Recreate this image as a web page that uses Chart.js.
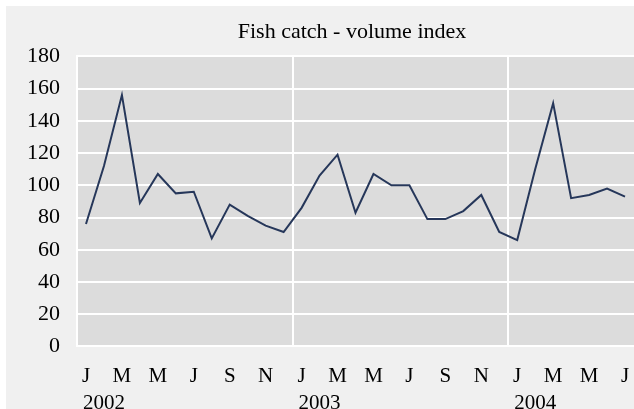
<!DOCTYPE html>
<html>
<head>
<meta charset="utf-8">
<script src="https://cdn.jsdelivr.net/npm/chart.js@4/dist/chart.umd.min.js"></script>
<style>
  html, body { margin: 0; padding: 0; background: #fff; overflow: hidden; width: 634px; height: 409px; }
  #marco { position: absolute; left: 6px; top: 6px; width: 688px; height: 430px; background: #f0f0f0; }
</style>
</head>
<body>
<div id="marco"><canvas id="graficoPesca"></canvas></div>
<script>
const letrasMes = ["J", "F", "M", "A", "M", "J", "J", "A", "S", "O", "N", "D"];
const anios = ["2002", "2003", "2004"];
const indice2002 = [76, 112, 156, 89, 107, 95, 96, 67, 88, 81, 75, 71];
const indice2003 = [86, 106, 119, 83, 107, 100, 100, 79, 79, 84, 94, 71];
const indice2004 = [66, 110, 151, 92, 94, 98, 93];
const ticksY = [0, 20, 40, 60, 80, 100, 120, 140, 160, 180];

const valores = [...indice2002, ...indice2003, ...indice2004];
const categorias = valores.map((v, i) => letrasMes[i % 12]);

Chart.defaults.font.family = "'Liberation Serif', 'Times New Roman', serif";
Chart.defaults.font.size = 21;
Chart.defaults.color = "#000";

// fondo gris del area del grafico
const fondoArea = {
  id: "fondoArea",
  beforeDraw(chart) {
    const { ctx, chartArea } = chart;
    ctx.save();
    ctx.fillStyle = "#dcdcdc";
    ctx.fillRect(chartArea.left, chartArea.top, chartArea.width, chartArea.height);
    ctx.restore();
  },
};

// meses alternos en la primera linea, el anio debajo (centrado en febrero)
function etiquetaX(v, i) {
  if (i % 2 === 0) return categorias[i];
  if (i % 12 === 1) return ["", anios[Math.floor(i / 12)]];
  return "";
}

new Chart(document.getElementById("graficoPesca"), {
  type: "line",
  data: {
    labels: categorias,
    datasets: [
      {
        label: "Fish catch - volume index",
        data: valores,
        borderColor: "#26375a",
        borderWidth: 2,
        pointRadius: 0,
        tension: 0,
        fill: false,
      },
    ],
  },
  options: {
    responsive: true,
    maintainAspectRatio: false,
    animation: false,
    layout: { padding: { left: 4, top: 0, right: 0, bottom: 3 } },
    plugins: {
      legend: { display: false },
      tooltip: { enabled: false },
      title: {
        display: true,
        text: "Fish catch - volume index",
        font: { size: 22, weight: "normal" },
        color: "#000",
        padding: { top: 13, bottom: 11 },
      },
    },
    scales: {
      x: {
        offset: true,
        grid: {
          offset: true,
          drawTicks: false,
          lineWidth: 2,
          color: (c) => (c.index % 12 === 0 ? "#fff" : "rgba(0,0,0,0)"),
        },
        border: { color: "#fff", width: 2 },
        ticks: {
          autoSkip: false,
          maxRotation: 0,
          padding: 16,
          font: { size: 21, lineHeight: 1.3 },
          callback: etiquetaX,
        },
      },
      y: {
        min: ticksY[0],
        max: ticksY[ticksY.length - 1],
        afterBuildTicks: (scale) => {
          scale.ticks = ticksY.map((v) => ({ value: v }));
        },
        grid: { color: "#fff", lineWidth: 2, drawTicks: false },
        border: { color: "#fff", width: 2 },
        ticks: { padding: 17, font: { size: 22 } },
      },
      y2: {
        position: "right",
        grid: { display: false, drawTicks: false },
        border: { display: false },
        ticks: { display: false },
        afterFit: (scale) => {
          scale.width = 60;
        },
      },
    },
  },
  plugins: [fondoArea],
});
</script>
</body>
</html>
